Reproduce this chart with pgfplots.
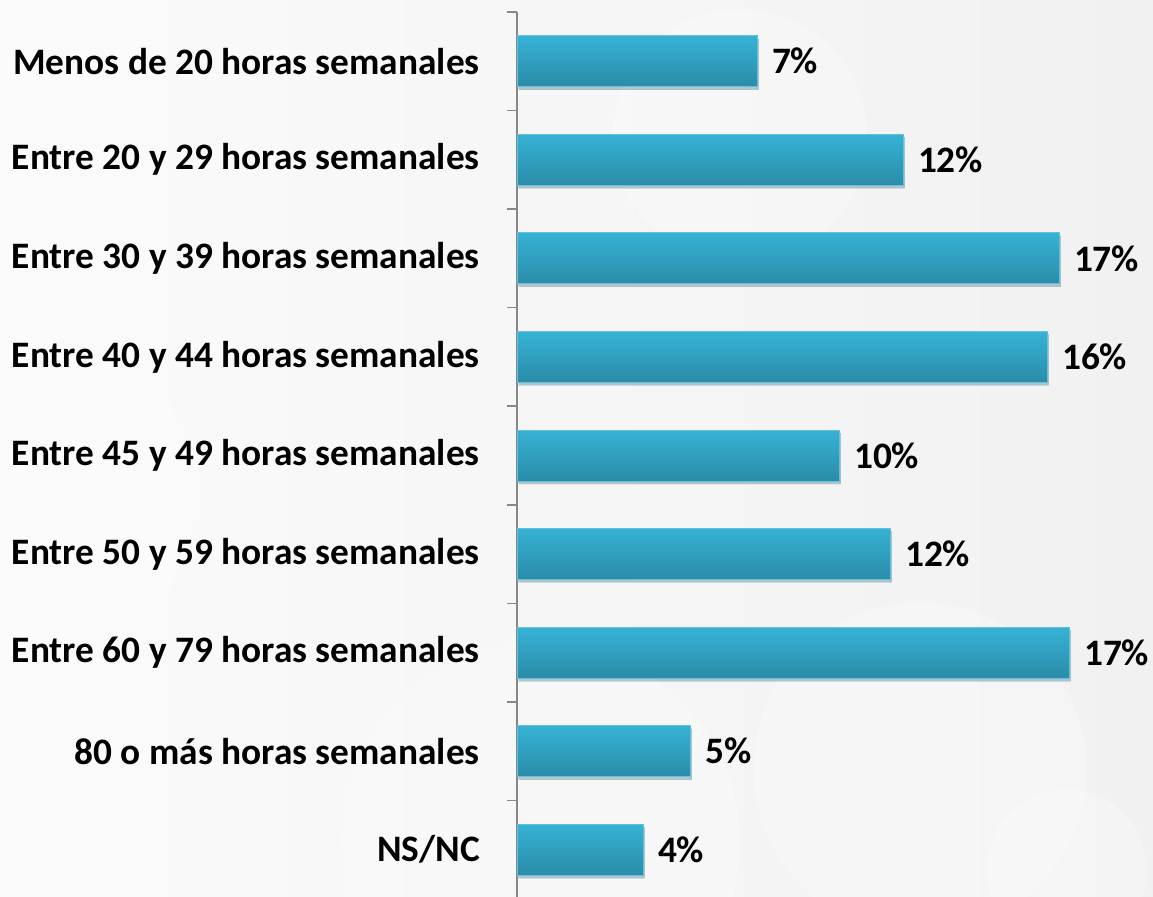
\documentclass[border=0pt]{standalone}
\usepackage{pgfplots}
\pgfplotsset{compat=1.18}
\usepackage{fontspec}
\setmainfont{Carlito}
\definecolor{bartop}{RGB}{54,178,213}
\definecolor{barmid}{RGB}{50,168,202}
\definecolor{barbot}{RGB}{42,140,168}
\definecolor{barline}{RGB}{100,192,220}
\definecolor{axisgray}{RGB}{135,135,135}
\definecolor{bgleft}{RGB}{251,251,251}
\definecolor{bgright}{RGB}{241,241,241}

\begin{document}
\begin{tikzpicture}
\useasboundingbox (0,0) rectangle (864.75pt,672pt);
\shade[left color=bgleft, right color=bgright] (0,0) rectangle (864.75pt,672pt);
\fill[white, opacity=0.25] (690pt,95pt) circle (125pt);
\fill[white, opacity=0.2] (405pt,40pt) circle (150pt);
\fill[white, opacity=0.25] (555pt,570pt) circle (95pt);
\fill[white, opacity=0.2] (40pt,300pt) circle (110pt);
\fill[white, opacity=0.25] (800pt,20pt) circle (60pt);
\begin{axis}[
  at={(387.75pt,663pt)}, anchor=north west,
  scale only axis, width=484.5pt, height=665.25pt,
  xbar, bar width=38.25pt, bar shift=0pt,
  xmin=0, xmax=20, ymin=-0.5, ymax=8.5, y dir=reverse,
  axis x line=none, axis y line=left,
  axis line style={-, draw=axisgray, line width=1.1pt},
  ytick={0,...,8},
  yticklabels={Menos de 20 horas semanales, Entre 20 y 29 horas semanales, Entre 30 y 39 horas semanales, Entre 40 y 44 horas semanales, Entre 45 y 49 horas semanales, Entre 50 y 59 horas semanales, Entre 60 y 79 horas semanales, 80 o más horas semanales, NS/NC},
  major tick length=0pt,
  minor ytick={-0.5,0.5,...,8.5},
  minor tick length=7.5pt,
  tick align=outside, ytick pos=left,
  minor tick style={draw=axisgray, line width=1.1pt},
  yticklabel style={font=\fontsize{28}{32}\selectfont\bfseries, anchor=east, inner sep=0pt, xshift=-27.75pt, text=black},
  clip=false,
  point meta=explicit,
  nodes near coords={\pgfmathprintnumber[fixed,precision=0,assume math mode=true]{\pgfplotspointmeta}\%},
  every node near coord/.append style={font=\fontsize{28}{32}\selectfont\bfseries, text=black, anchor=west, inner sep=0pt, xshift=11pt},
  every axis plot post/.append style={top color=bartop, middle color=barmid, bottom color=barbot, draw=barline, line width=0.6pt,
  preaction={fill=black, opacity=0.16, transform canvas={xshift=1.2pt, yshift=-2.2pt}}},
]
\addplot coordinates {(7.43,0) [7]};
\addplot coordinates {(11.95,1) [12]};
\addplot coordinates {(16.78,2) [17]};
\addplot coordinates {(16.41,3) [16]};
\addplot coordinates {(9.97,4) [10]};
\addplot coordinates {(11.55,5) [12]};
\addplot coordinates {(17.09,6) [17]};
\addplot coordinates {(5.36,7) [5]};
\addplot coordinates {(3.90,8) [4]};
\end{axis}
\end{tikzpicture}
\end{document}
